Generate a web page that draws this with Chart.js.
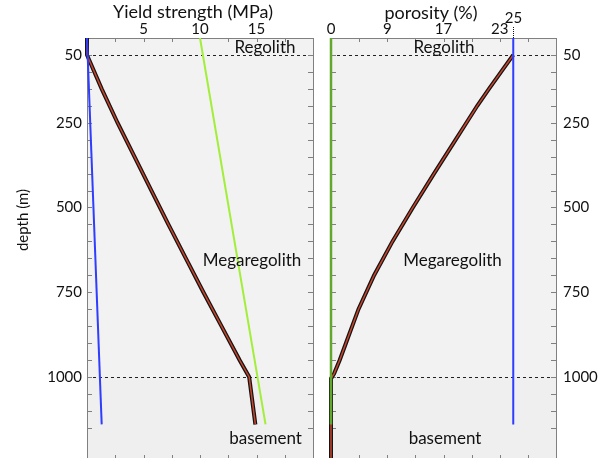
<!DOCTYPE html>
<html>
<head>
<meta charset="utf-8">
<script src="https://cdn.jsdelivr.net/npm/chart.js@4.4.1/dist/chart.umd.min.js"></script>
<style>
  html, body { margin: 0; padding: 0; background: #fff; overflow: hidden; }
  canvas { position: absolute; top: 0; }
</style>
</head>
<body>
<canvas id="strength" width="320" height="460" style="left:0"></canvas>
<canvas id="porosity" width="288" height="460" style="left:320px"></canvas>
<script>
var DEPTH_LABELS = [50, 250, 500, 750, 1000];
var STRENGTH_LABELS = [5, 10, 15];
var POROSITY_LABELS = [0, 9, 17, 23];
var LAYER_BOUNDS = [50, 1000];
var REGIONS = ["Regolith", "Megaregolith", "basement"];

// porosity axis is not linear: tick slot -> porosity (%)
var POROSITY_SLOTS = [0, 1, 2, 3, 3.24, 4];
var POROSITY_AT_SLOT = [0, 9, 17, 23, 25, 31.3];

// left panel, yield strength (MPa) against depth (m)
var strengthDepth = [0, 50, 150, 250, 350, 450, 550, 650, 750, 850, 950, 1000, 1140];
var strengthValues = [0, 0, 1.3, 2.7, 4.2, 5.7, 7.2, 8.75, 10.3, 11.9, 13.5, 14.35, 14.9];
var blueDepth = [0, 1140];
var blueStrength = [0, 1.3];
var greenDepth = [0, 1140];
var greenStrength = [10, 15.8];

// right panel, porosity (%) against depth (m)
var porosityDepth = [50, 100, 150, 200, 250, 300, 400, 500, 600, 700, 800, 900, 950, 990, 1005, 1250];
var porosityValues = [25, 23.2, 21.85, 20.6, 19.45, 18.3, 15.65, 12.65, 9.75, 6.9, 4.4, 2.4, 1.4, 0.5, 0, 0];
var bluePorDepth = [0, 1140];
var bluePorosity = [25, 25];
var greenPorDepth = [0, 1140];
var greenPorosity = [0, 0];

function interp(v, xs, ys) {
  for (var i = 1; i < xs.length; i++) {
    if (v <= xs[i] || i === xs.length - 1) {
      var t = (v - xs[i - 1]) / (xs[i] - xs[i - 1]);
      return ys[i - 1] + t * (ys[i] - ys[i - 1]);
    }
  }
  return ys[0];
}

class PorosityScale extends Chart.LinearScale {
  getPixelForValue(v) {
    return super.getPixelForValue(interp(v, POROSITY_AT_SLOT, POROSITY_SLOTS));
  }
  getValueForPixel(p) {
    return interp(super.getValueForPixel(p), POROSITY_SLOTS, POROSITY_AT_SLOT);
  }
  buildTicks() {
    return super.buildTicks().map(function (t) {
      return { value: interp(t.value, POROSITY_SLOTS, POROSITY_AT_SLOT) };
    });
  }
}
PorosityScale.id = "porosity";
PorosityScale.defaults = Chart.LinearScale.defaults;
Chart.register(PorosityScale);

var FONT = "Lato, 'DejaVu Sans', sans-serif";
Chart.defaults.font.family = FONT;
Chart.defaults.font.size = 15;
Chart.defaults.color = "#111";

function pts(xs, ys) {
  return xs.map(function (x, i) {
    return { x: x, y: ys[i] };
  });
}

function line(data, color, width) {
  return {
    data: data,
    borderColor: color,
    borderWidth: width,
    showLine: true,
    pointRadius: 0,
    fill: false,
    clip: false,
    tension: 0
  };
}

function hit(list, v) {
  for (var i = 0; i < list.length; i++) {
    if (Math.abs(list[i] - v) < 1e-6) return true;
  }
  return false;
}

function seg(ctx, x1, y1, x2, y2) {
  ctx.beginPath();
  ctx.moveTo(x1, y1);
  ctx.lineTo(x2, y2);
  ctx.stroke();
}

var panelPlugin = {
  id: "panel",
  beforeDatasetsDraw: function (chart) {
    var a = chart.chartArea, ctx = chart.ctx;
    var x = chart.scales.x, y = chart.scales.y;
    ctx.save();
    ctx.fillStyle = "#f2f2f2";
    ctx.fillRect(a.left, a.top, a.right - a.left, a.bottom - a.top);
    var yb = y.getPixelForValue(LAYER_BOUNDS[1]);
    ctx.fillStyle = "#efefef";
    ctx.fillRect(a.left, yb, a.right - a.left, a.bottom - yb);

    ctx.strokeStyle = "#222";
    ctx.lineWidth = 1;
    ctx.setLineDash([3, 3]);
    LAYER_BOUNDS.forEach(function (d) {
      var py = Math.round(y.getPixelForValue(d)) + 0.5;
      seg(ctx, a.left, py, a.right, py);
    });
    ctx.setLineDash([]);

    // frame and inward ticks
    ctx.strokeStyle = "#808080";
    ctx.strokeRect(Math.round(a.left) + 0.5, Math.round(a.top) + 0.5,
      Math.round(a.right - a.left), Math.round(a.bottom - a.top) - 1);
    x.ticks.forEach(function (t, i) {
      var px = Math.round(x.getPixelForTick(i)) + 0.5;
      if (px < a.left + 2 || px > a.right - 2) return;
      seg(ctx, px, a.top, px, a.top + 4);
      seg(ctx, px, a.bottom - 1, px, a.bottom - 5);
    });
    y.ticks.forEach(function (t, i) {
      var py = Math.round(y.getPixelForTick(i)) + 0.5;
      if (py < a.top + 2 || py > a.bottom - 3) return;
      seg(ctx, a.left, py, a.left + 5, py);
      seg(ctx, a.right, py, a.right - 5, py);
    });
    ctx.restore();
  },
  afterDraw: function (chart, args, opts) {
    var ctx = chart.ctx;
    var x = chart.scales.x, y = chart.scales.y;
    ctx.save();
    ctx.fillStyle = "#111";
    ctx.textAlign = "center";
    ctx.textBaseline = "middle";
    ctx.font = "17px " + FONT;
    (opts.regions || []).forEach(function (r, i) {
      ctx.fillText(REGIONS[i], x.getPixelForValue(r[0]), y.getPixelForValue(r[1]));
    });
    ctx.font = "15px " + FONT;
    (opts.marks || []).forEach(function (m) {
      var px = Math.round(x.getPixelForValue(m)) + 0.5;
      ctx.strokeStyle = "#111";
      ctx.setLineDash([1, 1]);
      seg(ctx, px, chart.chartArea.top - 11, px, chart.chartArea.top);
      ctx.setLineDash([]);
      ctx.fillText(String(m), px, 18);
    });
    (opts.titles || []).forEach(function (t) {
      ctx.save();
      ctx.font = t.size + "px " + FONT;
      ctx.translate(t.x, t.y);
      if (t.rotate) ctx.rotate(-Math.PI / 2);
      ctx.fillText(t.text, 0, 0);
      ctx.restore();
    });
    ctx.restore();
  }
};

function depthAxis(position, width, pad) {
  return {
    type: "linear",
    position: position,
    reverse: true,
    min: 0,
    max: 1245,
    ticks: {
      stepSize: 50,
      autoSkip: false,
      padding: pad,
      callback: function (v) {
        return hit(DEPTH_LABELS, v) ? String(v) : "";
      }
    },
    grid: { display: false, drawTicks: false },
    border: { display: false },
    afterFit: function (s) {
      s.width = width;
      s.paddingTop = 0;
      s.paddingBottom = 0;
    }
  };
}

function topAxis(type, max, step, labels) {
  return {
    type: type,
    position: "top",
    min: 0,
    max: max,
    ticks: {
      stepSize: step,
      autoSkip: false,
      maxRotation: 0,
      padding: 0,
      callback: function (v) {
        return hit(labels, v) ? String(Math.round(v)) : "";
      }
    },
    grid: { display: false, drawTicks: false },
    border: { display: false },
    afterFit: function (s) {
      s.height = 38;
      s.paddingLeft = 0;
      s.paddingRight = 0;
    }
  };
}

new Chart(document.getElementById("strength"), {
  type: "scatter",
  data: {
    datasets: [
      line(pts(greenStrength, greenDepth), "#a2ee3a", 2),
      line(pts(blueStrength, blueDepth), "#2f3dff", 2),
      line(pts(strengthValues, strengthDepth), "#c8452c", 1.5),
      line(pts(strengthValues, strengthDepth), "#141414", 4)
    ]
  },
  options: {
    responsive: false,
    animation: false,
    events: [],
    layout: { padding: { left: 0, right: 7, top: 0, bottom: 0 } },
    scales: {
      x: topAxis("linear", 20, 2.5, STRENGTH_LABELS),
      y: depthAxis("left", 87, 5)
    },
    plugins: {
      legend: { display: false },
      tooltip: { enabled: false },
      panel: {
        regions: [[15.75, 29], [14.6, 656], [15.8, 1182]],
        titles: [
          { text: "Yield strength (MPa)", x: 193, y: 12, size: 18 },
          { text: "depth (m)", x: 23, y: 220, size: 15, rotate: true }
        ]
      }
    }
  },
  plugins: [panelPlugin]
});

new Chart(document.getElementById("porosity"), {
  type: "scatter",
  data: {
    datasets: [
      line(pts(greenPorosity, greenPorDepth), "#62a82c", 2.5),
      line(pts(bluePorosity, bluePorDepth), "#2f3dff", 2),
      line(pts(porosityValues, porosityDepth), "#c8452c", 1.5),
      line(pts(porosityValues, porosityDepth), "#141414", 4)
    ]
  },
  options: {
    responsive: false,
    animation: false,
    events: [],
    layout: { padding: { left: 11, right: 0, top: 0, bottom: 0 } },
    scales: {
      x: topAxis("porosity", 4, 0.5, POROSITY_LABELS),
      y: depthAxis("right", 52, 7)
    },
    plugins: {
      legend: { display: false },
      tooltip: { enabled: false },
      panel: {
        regions: [[17.06, 29], [17.96, 656], [17.16, 1182]],
        marks: [25],
        titles: [{ text: "porosity (%)", x: 111, y: 13, size: 18 }]
      }
    }
  },
  plugins: [panelPlugin]
});
</script>
</body>
</html>
